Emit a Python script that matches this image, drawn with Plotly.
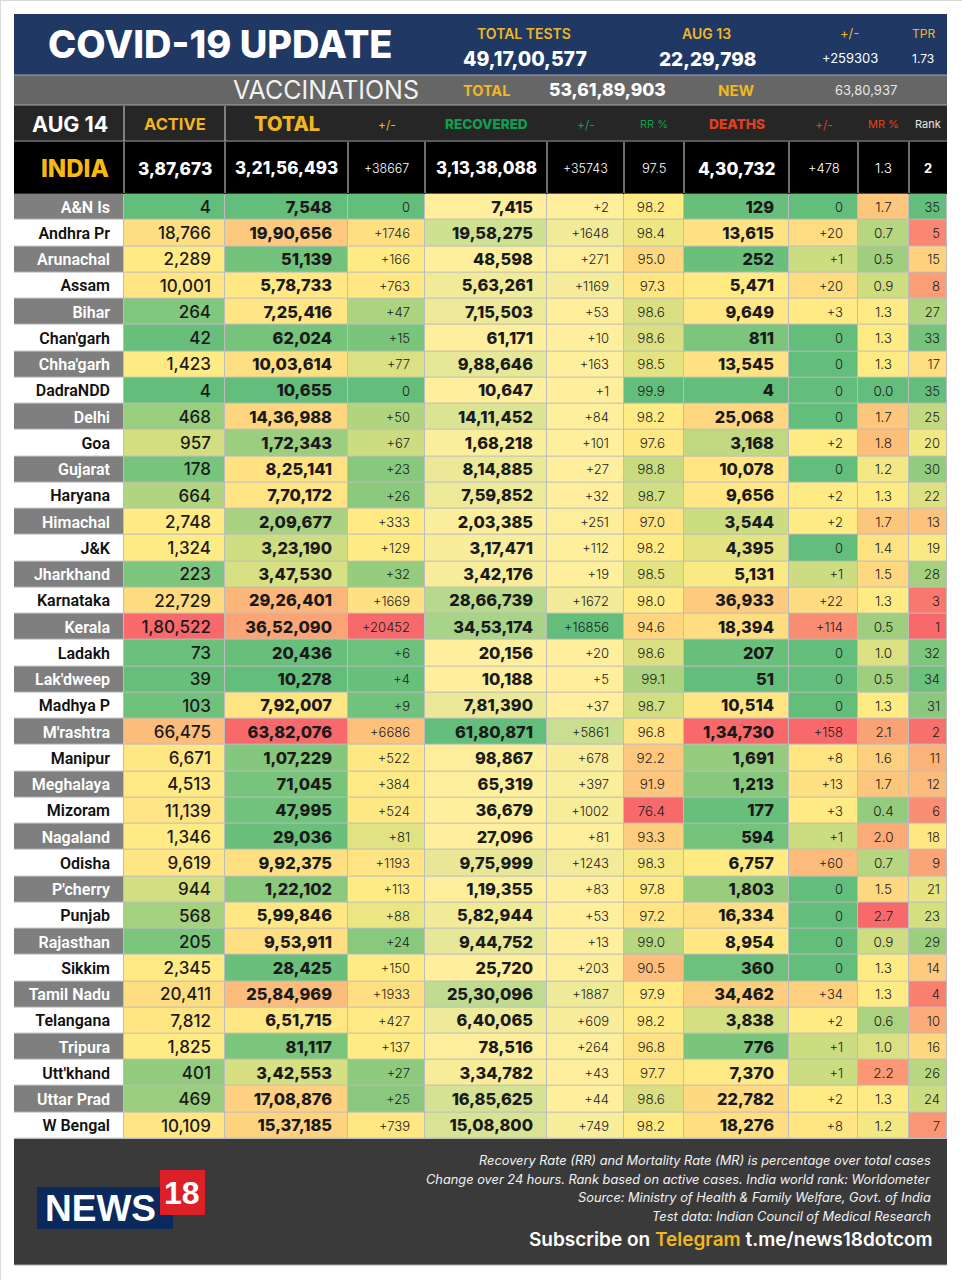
import numpy as np
import plotly.graph_objects as go

# Table data
states = ["A&N Is", "Andhra Pr", "Arunachal", "Assam", "Bihar", "Chan'garh", "Chha'garh", "DadraNDD", "Delhi", "Goa",
          "Gujarat", "Haryana", "Himachal", "J&K", "Jharkhand", "Karnataka", "Kerala", "Ladakh", "Lak'dweep", "Madhya P",
          "M'rashtra", "Manipur", "Meghalaya", "Mizoram", "Nagaland", "Odisha", "P'cherry", "Punjab", "Rajasthan", "Sikkim",
          "Tamil Nadu", "Telangana", "Tripura", "Utt'khand", "Uttar Prad", "W Bengal"]
active = ["4", "18,766", "2,289", "10,001", "264", "42", "1,423", "4", "468", "957",
          "178", "664", "2,748", "1,324", "223", "22,729", "1,80,522", "73", "39", "103",
          "66,475", "6,671", "4,513", "11,139", "1,346", "9,619", "944", "568", "205", "2,345",
          "20,411", "7,812", "1,825", "401", "469", "10,109"]
total = ["7,548", "19,90,656", "51,139", "5,78,733", "7,25,416", "62,024", "10,03,614", "10,655", "14,36,988", "1,72,343",
         "8,25,141", "7,70,172", "2,09,677", "3,23,190", "3,47,530", "29,26,401", "36,52,090", "20,436", "10,278", "7,92,007",
         "63,82,076", "1,07,229", "71,045", "47,995", "29,036", "9,92,375", "1,22,102", "5,99,846", "9,53,911", "28,425",
         "25,84,969", "6,51,715", "81,117", "3,42,553", "17,08,876", "15,37,185"]
total_new = ["0", "+1746", "+166", "+763", "+47", "+15", "+77", "0", "+50", "+67",
             "+23", "+26", "+333", "+129", "+32", "+1669", "+20452", "+6", "+4", "+9",
             "+6686", "+522", "+384", "+524", "+81", "+1193", "+113", "+88", "+24", "+150",
             "+1933", "+427", "+137", "+27", "+25", "+739"]
recovered = ["7,415", "19,58,275", "48,598", "5,63,261", "7,15,503", "61,171", "9,88,646", "10,647", "14,11,452", "1,68,218",
             "8,14,885", "7,59,852", "2,03,385", "3,17,471", "3,42,176", "28,66,739", "34,53,174", "20,156", "10,188", "7,81,390",
             "61,80,871", "98,867", "65,319", "36,679", "27,096", "9,75,999", "1,19,355", "5,82,944", "9,44,752", "25,720",
             "25,30,096", "6,40,065", "78,516", "3,34,782", "16,85,625", "15,08,800"]
recovered_new = ["+2", "+1648", "+271", "+1169", "+53", "+10", "+163", "+1", "+84", "+101",
                 "+27", "+32", "+251", "+112", "+19", "+1672", "+16856", "+20", "+5", "+37",
                 "+5861", "+678", "+397", "+1002", "+81", "+1243", "+83", "+53", "+13", "+203",
                 "+1887", "+609", "+264", "+43", "+44", "+749"]
rr = ["98.2", "98.4", "95.0", "97.3", "98.6", "98.6", "98.5", "99.9", "98.2", "97.6",
      "98.8", "98.7", "97.0", "98.2", "98.5", "98.0", "94.6", "98.6", "99.1", "98.7",
      "96.8", "92.2", "91.9", "76.4", "93.3", "98.3", "97.8", "97.2", "99.0", "90.5",
      "97.9", "98.2", "96.8", "97.7", "98.6", "98.2"]
deaths = ["129", "13,615", "252", "5,471", "9,649", "811", "13,545", "4", "25,068", "3,168",
          "10,078", "9,656", "3,544", "4,395", "5,131", "36,933", "18,394", "207", "51", "10,514",
          "1,34,730", "1,691", "1,213", "177", "594", "6,757", "1,803", "16,334", "8,954", "360",
          "34,462", "3,838", "776", "7,370", "22,782", "18,276"]
deaths_new = ["0", "+20", "+1", "+20", "+3", "0", "0", "0", "0", "+2",
              "0", "+2", "+2", "0", "+1", "+22", "+114", "0", "0", "0",
              "+158", "+8", "+13", "+3", "+1", "+60", "0", "0", "0", "0",
              "+34", "+2", "+1", "+1", "+2", "+8"]
mr = ["1.7", "0.7", "0.5", "0.9", "1.3", "1.3", "1.3", "0.0", "1.7", "1.8",
      "1.2", "1.3", "1.7", "1.4", "1.5", "1.3", "0.5", "1.0", "0.5", "1.3",
      "2.1", "1.6", "1.7", "0.4", "2.0", "0.7", "1.5", "2.7", "0.9", "1.3",
      "1.3", "0.6", "1.0", "2.2", "1.3", "1.2"]
rank = ["35", "5", "15", "8", "27", "33", "17", "35", "25", "20",
        "30", "22", "13", "19", "28", "3", "1", "32", "34", "31",
        "2", "11", "12", "6", "18", "9", "21", "23", "29", "14",
        "4", "10", "16", "26", "24", "7"]

india_row = ["3,87,673", "3,21,56,493", "+38667", "3,13,38,088", "+35743", "97.5", "4,30,732", "+478", "1.3", "2"]
head_labels = ["ACTIVE", "TOTAL", "+/-", "RECOVERED", "+/-", "RR %", "DEATHS", "+/-", "MR %", "Rank"]

# Colours of the spreadsheet's colour scales
GREEN = "#63BE7B"
YELLOW = "#FFEB84"
PALE = "#FFEF9C"
RED = "#F8696B"

# Page geometry in pixels (the axes run 1:1 with the page)
col_edges = [124, 225, 348, 425, 547, 624, 684, 789, 858, 909, 947]
table_left = 14
row_top = 193.6
row_h = 26.25
row_edges = row_top + row_h * np.arange(len(states) + 1)
# text sits a little under the cell's middle, as in the picture
row_text = (row_edges[:-1] + row_edges[1:]) / 2 + 1.8


def to_num(values):
    return [float(v.replace(",", "").replace("+", "")) for v in values]


def three_colour(nums, low, high, mid=None):
    mid = np.median(nums) if mid is None else mid
    return [[0, low], [(mid - min(nums)) / (max(nums) - min(nums)), YELLOW], [1, high]]


columns = [
    dict(vals=active, scale=("three", GREEN, RED, None), pad=14, size=17, weight=500),
    dict(vals=total, scale=("three", GREEN, RED, None), pad=16, size=16.4, weight=800),
    dict(vals=total_new, scale=("three", GREEN, RED, None), pad=15, size=13, weight=300),
    dict(vals=recovered, scale=("two", PALE, GREEN), pad=14, size=16.4, weight=800),
    dict(vals=recovered_new, scale=("two", PALE, GREEN), pad=15, size=13, weight=300),
    dict(vals=rr, scale=("three", RED, GREEN, None), pad=19, size=13.5, weight=300),
    dict(vals=deaths, scale=("three", GREEN, RED, None), pad=15, size=16.4, weight=800),
    dict(vals=deaths_new, scale=("three", GREEN, RED, 1.5), pad=15, size=13, weight=300),
    dict(vals=mr, scale=("three", GREEN, RED, None), pad=None, size=13.5, weight=300),
    dict(vals=rank, scale=("three", RED, GREEN, None), pad=7, size=13, weight=300),
]

fig = go.Figure()

# State name column
fig.add_trace(go.Heatmap(
    x=[table_left, col_edges[0]], y=row_edges, z=[[i % 2] for i in range(len(states))],
    zmin=0, zmax=1, colorscale=[[0, "#7F7F7F"], [1, "#FFFFFF"]],
    showscale=False, xgap=1, ygap=1, hoverinfo="skip",
))
fig.add_trace(go.Scatter(
    x=[col_edges[0] - 14] * len(states), y=row_text, text=states, mode="text",
    textposition="middle left", hoverinfo="skip",
    textfont=dict(family="Roboto", size=16, weight=600,
                  color=["#FFFFFF" if i % 2 == 0 else "#111111" for i in range(len(states))]),
))

# One heatmap per column, each with its own colour scale
for i, col in enumerate(columns):
    nums = to_num(col["vals"])
    if col["scale"][0] == "three":
        cs = three_colour(nums, col["scale"][1], col["scale"][2], col["scale"][3])
    else:
        cs = [[0, col["scale"][1]], [1, col["scale"][2]]]
    fig.add_trace(go.Heatmap(
        x=[col_edges[i], col_edges[i + 1]], y=row_edges, z=[[n] for n in nums],
        zmin=min(nums), zmax=max(nums), colorscale=cs,
        showscale=False, xgap=1, ygap=1, hoverinfo="skip",
    ))
    if col["pad"] is None:
        tx, pos = (col_edges[i] + col_edges[i + 1]) / 2, "middle center"
    else:
        tx, pos = col_edges[i + 1] - col["pad"], "middle left"
    fig.add_trace(go.Scatter(
        x=[tx] * len(nums), y=row_text, text=col["vals"], mode="text",
        textposition=pos, hoverinfo="skip",
        textfont=dict(family="Inter", size=col["size"], weight=col["weight"], color="#1A1A1A"),
    ))

shapes = []


def band(x0, y0, x1, y1, colour):
    shapes.append(dict(type="rect", x0=x0, y0=y0, x1=x1, y1=y1, layer="below",
                       fillcolor=colour, line_width=0))


def rule(x0, y0, x1, y1, colour="#D9D9D9", width=1):
    shapes.append(dict(type="line", x0=x0, y0=y0, x1=x1, y1=y1, line=dict(color=colour, width=width)))


band(table_left, 14, 947, 75, "#1F3864")
band(table_left, 75, 947, 105, "#666666")
band(table_left, 105, 947, 142, "#262626")
band(table_left, 142, 947, 194, "#000000")
band(table_left, 194, 947, 1139, "#BDBDBD")
band(table_left, 1139, 947, 1265, "#3B3A3A")
rule(0, 0.5, 962, 0.5)
rule(0.5, 0, 0.5, 1280)
rule(table_left, 75, 947, 75, "#A6A6A6")
rule(table_left, 105, 947, 105, "#A6A6A6")
rule(table_left, 141, 947, 141, "#595959", 2)
rule(table_left, 1265, 947, 1265, "#A6A6A6")
for x in col_edges[:2]:
    rule(x, 106, x, 141)
for x in col_edges[:-1]:
    rule(x, 142, x, 193)

# NEWS18 logo
band(37, 1187, 173, 1229, "#0A2A5E")
band(160, 1170, 205, 1215, "#DC2027")

annotations = []


def label(x, y, text, size, colour="#FFFFFF", anchor="center", family="Inter", weight=400, italic=False):
    annotations.append(dict(
        x=x, y=y, text=text, showarrow=False, xanchor=anchor, yanchor="middle",
        font=dict(family=family, size=size, color=colour, weight=weight, style="italic" if italic else "normal"),
    ))


GOLD = "#F2B71E"
label(46, 44, "COVID-19 UPDATE", 38, anchor="left", weight=800)
label(524, 33, "TOTAL TESTS", 14, GOLD, weight=600)
label(525, 59, "49,17,00,577", 19.5, weight=800)
label(706, 33, "AUG 13", 14, GOLD, weight=600)
label(707, 59, "22,29,798", 19, weight=800)
label(849, 33, "+/-", 13, GOLD)
label(850, 58, "+259303", 13)
label(923, 33, "TPR", 12, GOLD)
label(923, 58, "1.73", 12)

label(326, 90, "VACCINATIONS", 25, "#F2F2F2", weight=400)
label(486, 90, "TOTAL", 14.5, GOLD, weight=700)
label(607, 89, "53,61,89,903", 17.5, weight=800)
label(736, 90, "NEW", 15, GOLD, weight=700)
label(866, 90, "63,80,937", 13, "#E6E6E6")

# Header row and India row
label(70, 124, "AUG 14", 21.5, weight=700)
head_style = [(GOLD, 16.5, 700), (GOLD, 20, 800), (GOLD, 12, 400), ("#0FA04E", 13.5, 800), ("#0FA04E", 12, 400),
              ("#0FA04E", 11, 400), ("#E2401C", 13.7, 800), ("#E2401C", 12, 400), ("#E2401C", 11, 400), ("#E6E6E6", 11, 400)]
india_style = [(17.3, 800), (17, 800), (12.5, 300), (17, 800), (12.5, 300), (13, 300), (17.3, 800), (13, 300), (13.5, 300), (13, 700)]
label(75, 168, "INDIA", 24, "#F7B912", weight=800)
for i in range(len(head_labels)):
    x = (col_edges[i] + col_edges[i + 1]) / 2
    c, s, w = head_style[i]
    label(x, 124, head_labels[i], s, c, weight=w)
    s, w = india_style[i]
    label(x, 168, india_row[i], s, weight=w)

# Footer
foot_lines = ["Recovery Rate (RR) and Mortality Rate (MR) is percentage over total cases",
              "Change over 24 hours. Rank based on active cases. India world rank: Worldometer",
              "Source: Ministry of Health & Family Welfare, Govt. of India",
              "Test data: Indian Council of Medical Research"]
for y, line in zip([1160, 1179, 1197, 1216], foot_lines):
    label(933, y, line, 12.8, "#F2F2F2", anchor="right", italic=True)
label(935, 1239, "Subscribe on <span style='color:#F2B71E'>Telegram</span> t.me/news18dotcom", 19,
      anchor="right", weight=600)
label(100, 1208, "NEWS", 37, anchor="center", family="Liberation Sans", weight=700)
label(182, 1193, "18", 32, anchor="center", family="Liberation Sans", weight=700)

fig.update_layout(
    width=962, height=1280,
    margin=dict(l=0, r=0, t=0, b=0),
    paper_bgcolor="white", plot_bgcolor="white",
    showlegend=False,
    xaxis=dict(range=[0, 962], visible=False, fixedrange=True),
    yaxis=dict(range=[1280, 0], visible=False, fixedrange=True),
    shapes=shapes, annotations=annotations,
)

# page margin off so the picture sits at the window's corner
fig.write_html("out.html", config={"displayModeBar": False}, post_script="document.body.style.margin='0';")
